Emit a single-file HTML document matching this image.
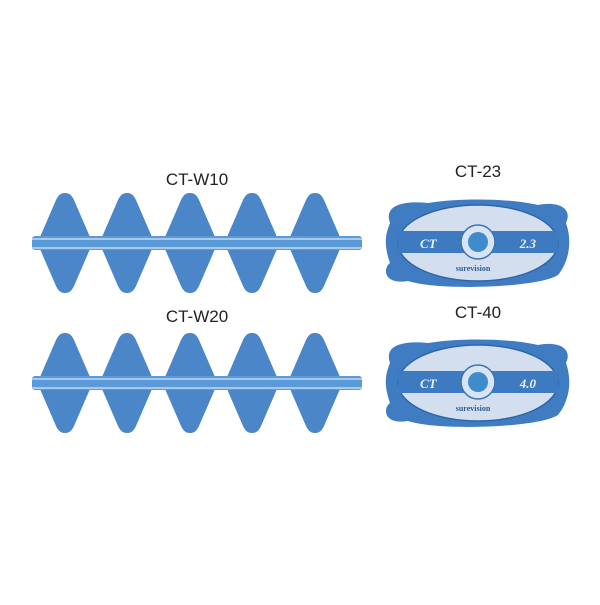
<!DOCTYPE html>
<html><head><style>
body{margin:0;background:#fff;width:600px;height:600px;overflow:hidden}
</style></head><body>
<svg width="600" height="600" viewBox="0 0 600 600" xmlns="http://www.w3.org/2000/svg">
<defs>
<g id="dia">
<path d="M0,-50 C5,-50 7,-47 9,-43 L25,-6 L25,6 L9,43 C7,47 5,50 0,50 C-5,50 -7,47 -9,43 L-25,6 L-25,-6 L-9,-43 C-7,-47 -5,-50 0,-50 Z" fill="#4a86c8"/>
</g>
<g id="row">
<use href="#dia" x="65"/><use href="#dia" x="127"/><use href="#dia" x="190"/><use href="#dia" x="252"/><use href="#dia" x="315"/>
<rect x="32" y="-7" width="330" height="14" rx="3" fill="#5b9ad8"/>
<rect x="32" y="-5" width="330" height="2" fill="#a9c9ea"/>
<rect x="32" y="4" width="330" height="2" fill="#a9c9ea"/>
</g>
<g id="ovbase">
<path d="M-88,-20 C-95,-40 -70,-42 -50,-40 C-20,-45 30,-45 60,-38 C80,-42 95,-35 88,-20 C95,0 90,20 80,32 C60,45 -40,48 -70,38 C-95,42 -95,25 -88,20 C-95,0 -92,-10 -88,-20 Z" fill="#3f7cc2"/>
<ellipse cx="0" cy="0" rx="80" ry="38" fill="#d3dfee" stroke="#2f66a8" stroke-width="1.5"/>
<rect x="-80" y="-12" width="160" height="22" fill="#3d7ac0"/>
<circle cx="0" cy="-1" r="17" fill="#d8e4f2" stroke="#3a72b5" stroke-width="1.5"/>
<circle cx="0" cy="-1" r="10" fill="#3f8ccc"/>
<text x="-58" y="5" font-family="Liberation Serif,serif" font-style="italic" font-weight="bold" font-size="13" fill="#e8f0fa">CT</text>
<text x="-5" y="28" text-anchor="middle" font-family="Liberation Serif,serif" font-size="8" font-weight="bold" fill="#2f5d96">surevision</text>
</g>
</defs>
<text x="197" y="185" text-anchor="middle" font-family="Liberation Sans,sans-serif" font-size="17" fill="#222">CT-W10</text>
<use href="#row" y="243"/>
<text x="197" y="322" text-anchor="middle" font-family="Liberation Sans,sans-serif" font-size="17" fill="#222">CT-W20</text>
<use href="#row" y="383"/>
<text x="478" y="177" text-anchor="middle" font-family="Liberation Sans,sans-serif" font-size="17" fill="#222">CT-23</text>
<g transform="translate(478,243)"><use href="#ovbase"/>
<text x="58" y="5" text-anchor="end" font-family="Liberation Serif,serif" font-style="italic" font-weight="bold" font-size="13" fill="#e8f0fa">2.3</text></g>
<text x="478" y="318" text-anchor="middle" font-family="Liberation Sans,sans-serif" font-size="17" fill="#222">CT-40</text>
<g transform="translate(478,383)"><use href="#ovbase"/>
<text x="58" y="5" text-anchor="end" font-family="Liberation Serif,serif" font-style="italic" font-weight="bold" font-size="13" fill="#e8f0fa">4.0</text></g>
</svg>
</body></html>
